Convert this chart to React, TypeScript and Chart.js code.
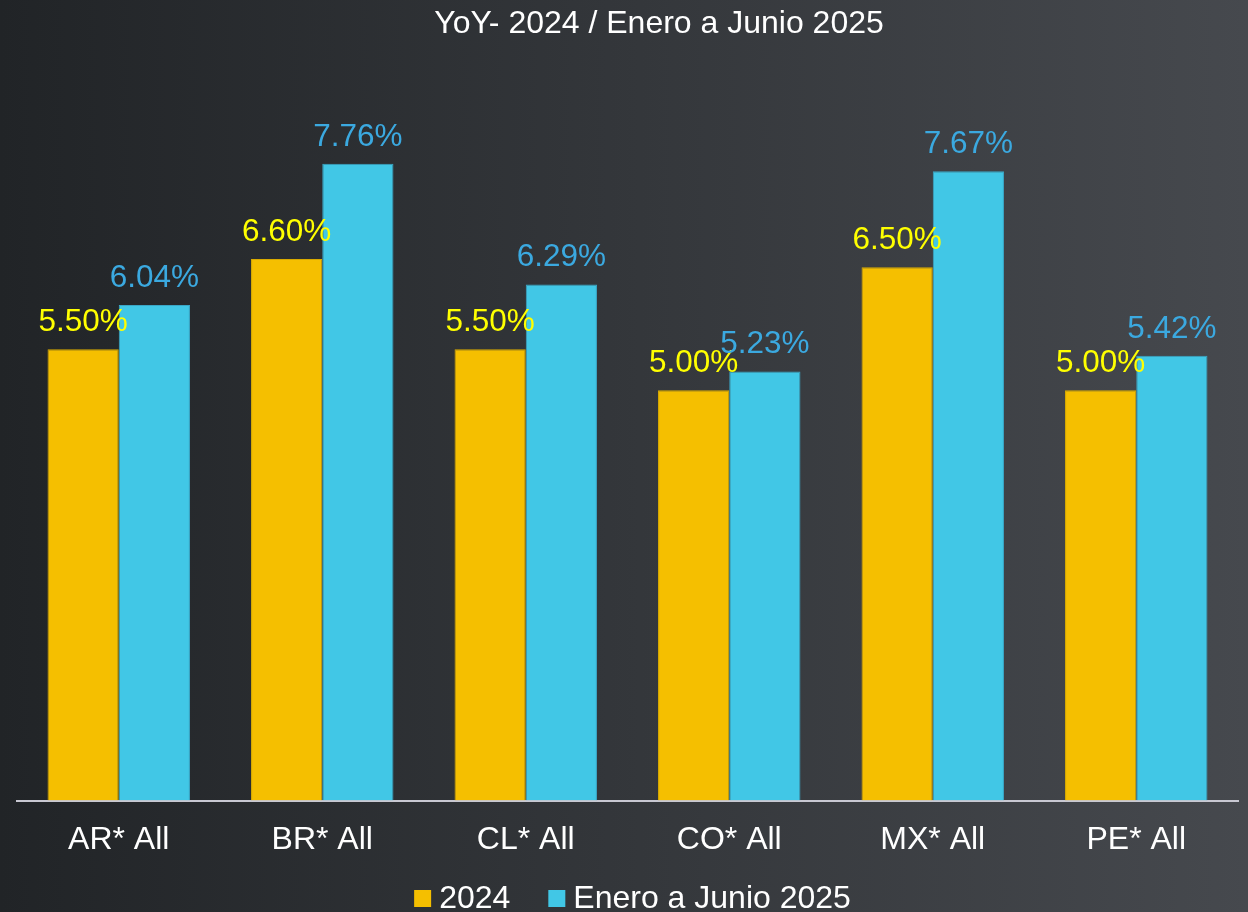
import React, { useEffect, useRef } from "react";
import { Chart, registerables } from "chart.js";

Chart.register(...registerables);

const categories = ["AR* All", "BR* All", "CL* All", "CO* All", "MX* All", "PE* All"];
const series2024 = [5.5, 6.6, 5.5, 5.0, 6.5, 5.0];
const series2025 = [6.04, 7.76, 6.29, 5.23, 7.67, 5.42];
const seriesNames = ["2024", "Enero a Junio 2025"];
const chartTitle = "YoY- 2024 / Enero a Junio 2025";

const FONT = "'Liberation Sans', Arial, sans-serif";
const BAR_COLORS = ["#F5BF00", "#41C7E6"];
const BAR_BORDERS = ["#D9AA00", "#3AA6C6"];
const LABEL_COLORS = ["#FFFF00", "#3BA9E0"];

const valueLabels = {
  id: "valueLabels",
  afterDatasetsDraw(chart: any) {
    const ctx = chart.ctx;
    ctx.save();
    ctx.font = `31.5px ${FONT}`;
    ctx.textAlign = "center";
    ctx.textBaseline = "alphabetic";
    chart.data.datasets.forEach((ds: any, di: number) => {
      const meta = chart.getDatasetMeta(di);
      ctx.fillStyle = LABEL_COLORS[di];
      meta.data.forEach((el: any, i: number) => {
        const v = ds.data[i] as number;
        ctx.fillText(v.toFixed(2) + "%", el.x, el.y - 18);
      });
    });
    ctx.restore();
  },
};

const titleAndLegend = {
  id: "titleAndLegend",
  afterDraw(chart: any) {
    const ctx = chart.ctx;
    ctx.save();
    // title
    ctx.font = `32px ${FONT}`;
    ctx.fillStyle = "#FFFFFF";
    ctx.textAlign = "center";
    ctx.textBaseline = "alphabetic";
    ctx.fillText(chartTitle, 659, 33);
    // legend
    const box = 17;
    const gapText = 8;
    const gapItem = 38;
    const widths = chart.data.datasets.map((ds: any) => ctx.measureText(ds.label).width);
    const total =
      widths.reduce((a: number, w: number) => a + box + gapText + w, 0) +
      gapItem * (widths.length - 1);
    let x = 632.5 - total / 2;
    ctx.textAlign = "left";
    chart.data.datasets.forEach((ds: any, i: number) => {
      ctx.fillStyle = ds.backgroundColor;
      ctx.fillRect(x, 890, box, box);
      x += box + gapText;
      ctx.fillStyle = "#FFFFFF";
      ctx.fillText(ds.label, x, 908);
      x += widths[i] + gapItem;
    });
    ctx.restore();
  },
};

export default function App() {
  const ref = useRef<HTMLCanvasElement | null>(null);
  useEffect(() => {
    if (!ref.current) return;
    const chart = new Chart(ref.current, {
      type: "bar",
      data: {
        labels: categories,
        datasets: [
          {
            label: seriesNames[0],
            data: series2024,
            backgroundColor: BAR_COLORS[0],
            borderColor: BAR_BORDERS[0],
            borderWidth: 1,
            categoryPercentage: 0.7,
            barPercentage: 1.0,
          },
          {
            label: seriesNames[1],
            data: series2025,
            backgroundColor: BAR_COLORS[1],
            borderColor: BAR_BORDERS[1],
            borderWidth: 1,
            categoryPercentage: 0.7,
            barPercentage: 1.0,
          },
        ],
      },
      options: {
        responsive: false,
        animation: false,
        layout: { padding: { top: 62, bottom: 33, left: 17, right: 10 } },
        scales: {
          x: {
            grid: { display: false, drawTicks: false },
            border: { display: true, color: "#C8C8D2", width: 2 },
            ticks: { color: "#FFFFFF", font: { family: FONT, size: 32 }, padding: 20 },
          },
          y: { display: false, min: 0, max: 9 },
        },
        plugins: {
          title: { display: false },
          legend: { display: false },
          tooltip: { enabled: false },
        },
      },
      plugins: [valueLabels, titleAndLegend],
    });
    return () => chart.destroy();
  }, []);
  return (
    <div
      style={{
        position: "fixed",
        left: 0,
        top: 0,
        width: 1248,
        height: 912,
        background: "linear-gradient(to right, #212427, #46494E)",
      }}
    >
      <canvas ref={ref} width={1248} height={912} style={{ display: "block" }} />
    </div>
  );
}
